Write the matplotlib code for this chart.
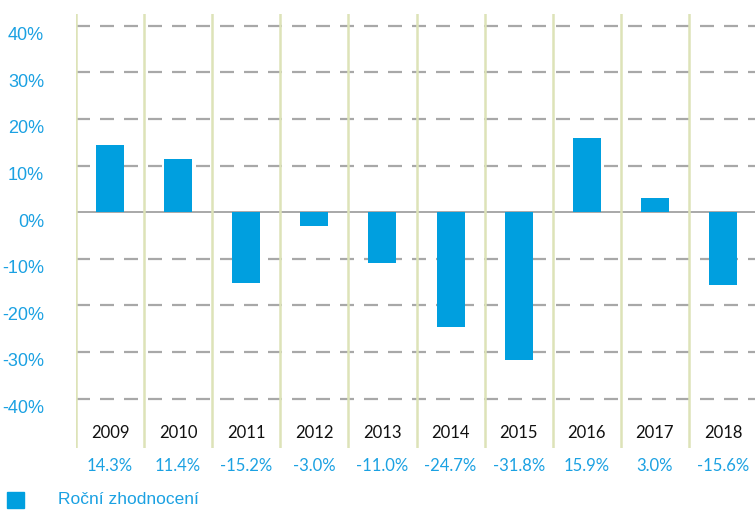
import numpy as np
import matplotlib.pyplot as plt
import matplotlib.transforms as mtransforms

# data
years = ['2009', '2010', '2011', '2012', '2013', '2014', '2015', '2016', '2017', '2018']
returns = [14.3, 11.4, -15.2, -3.0, -11.0, -24.7, -31.8, 15.9, 3.0, -15.6]
yticks = [-40, -30, -20, -10, 0, 10, 20, 30, 40]
legend_label = 'Roční zhodnocení'

bar_color = '#009FDF'
text_blue = '#1BA1E2'
vline_color = '#DDE3B8'
grid_color = '#A8A8A8'

fig = plt.figure(figsize=(7.55, 5.11), dpi=100)
ax = fig.add_axes([76 / 755, 63 / 511, 681 / 755, 434 / 511])

x = np.arange(len(years))
ax.set_xlim(-0.5, len(years) - 0.5)
ax.set_ylim(-50.6, 42.5)

# gridlines (dashed) except zero
for v in yticks:
    if v == 0:
        ax.axhline(0, color='#9A9A9A', lw=1.2, zorder=1)
    else:
        ax.axhline(v, color=grid_color, lw=1.6, dashes=(6.3, 4.5), zorder=1)

# vertical column separators
for b in np.arange(len(years)) - 0.5:
    ax.axvline(b, color=vline_color, lw=1.8, zorder=2)

ax.bar(x, returns, width=0.41, color=bar_color, zorder=3)

# year row and value row
for i, (yr, r) in enumerate(zip(years, returns)):
    ax.text(i, -47.3, yr, ha='center', va='center', fontsize=12,
            family='Lato', color='#111111')
    ax.text(i, -54.4, f'{r:.1f}%', ha='center', va='center', fontsize=12,
            family='Lato', color=text_blue, clip_on=False)

ax.set_yticks(yticks)
ax.set_yticklabels([f'{v}%' for v in yticks], fontsize=13,
                   family='Liberation Sans', color=text_blue)
ax.tick_params(axis='y', length=0, pad=23)
ax.set_xticks([])
offset = mtransforms.ScaledTranslation(0, -8 / 100, fig.dpi_scale_trans)
for lbl in ax.get_yticklabels():
    lbl.set_transform(lbl.get_transform() + offset)

for s in ax.spines.values():
    s.set_visible(False)

# legend
fig.patches.append(plt.Rectangle((7 / 755, 1 - 508 / 511), 17 / 755, 16 / 511,
                                 transform=fig.transFigure, color=bar_color))
fig.text(58 / 755, 1 - 500 / 511, legend_label, fontsize=12.5,
         family='Liberation Sans', color=text_blue, va='center')

fig.savefig('out.png', dpi=100)
